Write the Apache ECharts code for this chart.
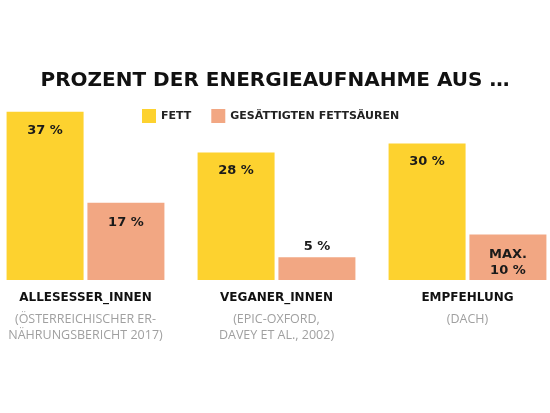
<!DOCTYPE html>
<html>
<head>
<meta charset="utf-8">
<script src="https://cdn.jsdelivr.net/npm/echarts@6/dist/echarts.min.js"></script>
<style>
  html,body{margin:0;padding:0;background:#fff}
  #Chart{width:550px;height:413px}
</style>
</head>
<body>
<div id="Chart"></div>
<script>
// Daten
var categories=['ALLESESSER_INNEN','VEGANER_INNEN','EMPFEHLUNG']
var subtitles=[
    ['(ÖSTERREICHISCHER ER-','NÄHRUNGSBERICHT 2017)'],
    ['(EPIC-OXFORD,','DAVEY ET AL., 2002)'],
    ['(DACH)']
]
var fett=[37,28,30]
var saeuren=[17,5,10]
var saeurenPrefix=['','','MAX.']
var seriesNames=['FETT','GESÄTTIGTEN FETTSÄUREN']

var yellow='#FDD22F',pink='#F2A783'

function $each(arr,fn){ for(var i=0;i<arr.length;i++) fn(arr[i],i) }

function catLabel(value,idx){
    var s='{n|'+value+'}'
    $each(subtitles[idx],function(line){ s+='\n{s|'+line+'}' })
    return s
}

// Saeuren-Daten mit Label-Einstellungen
function saeurenData(){
    var data=[]
    $each(saeuren,function(v,i){
        var txt=(saeurenPrefix[i]?saeurenPrefix[i]+'\n':'')+v+' %'
        var item={value:v,label:{formatter:txt}}
        if(v<8){
            item.label.position='top'
            item.label.distance=3
        }
        data.push(item)
    })
    return data
}

function drawChar(){
    var myChart=echarts.init(document.getElementById('Chart'))
    var option={
        animation:false,
        color:[yellow,pink],
        title:{
            text:'PROZENT DER ENERGIEAUFNAHME AUS …',
            left:'center',
            top:66,
            textStyle:{
                fontFamily:'DejaVu Sans',
                fontWeight:'bold',
                fontSize:20,
                color:'#111'
            }
        },
        legend:{
            data:seriesNames,
            top:104,
            left:137,
            itemWidth:14,
            itemHeight:14,
            itemGap:20,
            icon:'rect',
            textStyle:{
                fontFamily:'DejaVu Sans',
                fontWeight:'bold',
                fontSize:11,
                color:'#222'
            }
        },
        grid:{
            left:-10,
            width:573,
            top:98,
            bottom:133,
            outerBoundsMode:'none',
            containLabel:false
        },
        xAxis:{
            type:'category',
            data:categories,
            axisLine:{show:false},
            axisTick:{show:false},
            axisLabel:{
                interval:0,
                margin:5,
                formatter:catLabel,
                rich:{
                    n:{
                        fontFamily:'DejaVu Sans',
                        fontWeight:'bold',
                        fontSize:12,
                        color:'#111',
                        lineHeight:26
                    },
                    s:{
                        fontFamily:'Open Sans',
                        fontSize:12.5,
                        color:'#a0a0a0',
                        lineHeight:16
                    }
                }
            }
        },
        yAxis:{
            type:'value',
            min:0,
            max:40,
            show:false,
            splitLine:{show:false}
        },
        series:[
            {
                name:seriesNames[0],
                type:'bar',
                data:fett,
                barWidth:77,
                barGap:'5%',
                label:{
                    show:true,
                    position:'insideTop',
                    distance:12,
                    formatter:'{c} %',
                    fontFamily:'DejaVu Sans',
                    fontWeight:'bold',
                    fontSize:13,
                    color:'#1a1a1a'
                }
            },
            {
                name:seriesNames[1],
                type:'bar',
                data:saeurenData(),
                barWidth:77,
                barGap:'5%',
                label:{
                    show:true,
                    position:'insideTop',
                    distance:12,
                    lineHeight:16,
                    fontFamily:'DejaVu Sans',
                    fontWeight:'bold',
                    fontSize:13,
                    color:'#1a1a1a'
                }
            }
        ]
    }
    myChart.setOption(option)
}

drawChar()
</script>
</body>
</html>
